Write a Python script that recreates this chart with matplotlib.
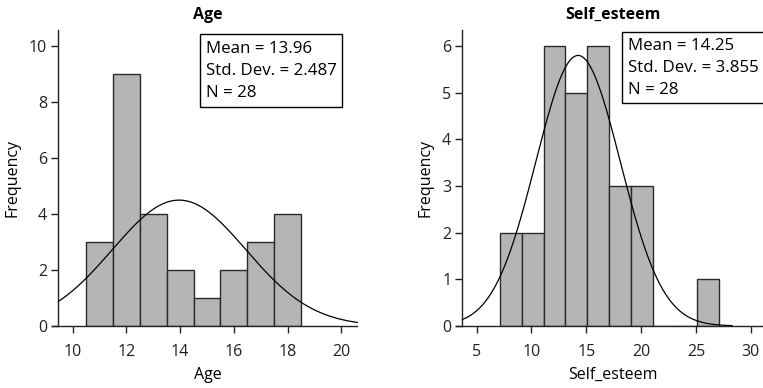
import numpy as np
import matplotlib
matplotlib.use("Agg")
from matplotlib import pyplot as plt
from matplotlib.patches import Rectangle

plt.rcParams['font.family'] = ['Open Sans', 'DejaVu Sans']

# Age histogram (bin edges and counts)
age_edges = [10.5, 11.5, 12.5, 13.5, 14.5, 15.5, 16.5, 17.5, 18.5]
age_counts = [3, 9, 4, 2, 1, 2, 3, 4]
age_mean, age_sd, age_n = 13.96, 2.487, 28

# Self_esteem histogram
se_edges = [7.1, 9.1, 11.1, 13.1, 15.1, 17.1, 19.1, 21.1, 23.1, 25.1, 27.1]
se_counts = [2, 2, 6, 5, 6, 3, 3, 0, 0, 1]
se_mean, se_sd, se_n = 14.25, 3.855, 28

bar_color = '#b4b5b7'
edge_color = '#2b2b2b'

fig = plt.figure(figsize=(7.63, 3.88), dpi=100)
ax1 = fig.add_axes([58.3/763, 62/388, 299/763, 296/388])
ax2 = fig.add_axes([462.3/763, 62/388, 300.7/763, 296/388])


def draw_hist(ax, edges, counts, mean, sd, n, xlim, ylim, xticks, yticks, curve_end, title, box, text_x, text_ys):
    edges = np.array(edges)
    widths = np.diff(edges)
    ax.bar(edges[:-1], counts, width=widths, align='edge', color=bar_color,
           edgecolor=edge_color, linewidth=1.0)
    bw = widths[0]
    xs = np.linspace(xlim[0], curve_end, 400)
    ys = n * bw * np.exp(-0.5 * ((xs - mean) / sd) ** 2) / (sd * np.sqrt(2 * np.pi))
    ax.plot(xs, ys, color='black', linewidth=0.9, clip_on=False)
    ax.set_xlim(xlim)
    ax.set_ylim(ylim)
    ax.set_xticks(xticks)
    ax.set_yticks(yticks)
    for s in ['top', 'right']:
        ax.spines[s].set_visible(False)
    for s in ['left', 'bottom']:
        ax.spines[s].set_linewidth(1.0)
        ax.spines[s].set_color('#222222')
    # x axis line runs a tick-length past the y axis, as in the original
    ext = (xlim[1] - xlim[0]) * 6 / 299
    ax.spines['bottom'].set_bounds(xlim[0] - ext, xlim[1])
    ax.tick_params(direction='out', length=5, width=1.0, labelsize=11.5, colors='#222222')
    ax.tick_params(axis='x', pad=8)
    ax.tick_params(axis='y', pad=3)
    ax.set_title(title, fontsize=11.5, fontweight='bold', pad=8)
    ax.set_xlabel(title, fontsize=11.5, labelpad=5)
    ax.set_ylabel('Frequency', fontsize=11.5, labelpad=6)

    # statistics box
    x0, y0, x1, y1 = box
    ax.add_patch(Rectangle((x0, y0), x1 - x0, y1 - y0, transform=ax.transAxes,
                           fc='white', ec='black', lw=1.0, clip_on=False, zorder=5))
    lines = ['Mean = %.2f' % mean, 'Std. Dev. = %.3f' % sd, 'N = %d' % n]
    for line, ty in zip(lines, text_ys):
        ax.text(text_x, ty, line, transform=ax.transAxes, ha='left', va='center',
                fontsize=12.2, clip_on=False, zorder=6)


draw_hist(ax1, age_edges, age_counts, age_mean, age_sd, age_n,
          (9.46, 20.6), (0, 10.56), [10, 12, 14, 16, 18, 20], [0, 2, 4, 6, 8, 10],
          20.6, 'Age', (0.474, 0.741, 0.950, 0.9855), 0.493, [0.937, 0.861, 0.787])
draw_hist(ax2, se_edges, se_counts, se_mean, se_sd, se_n,
          (3.7, 31.1), (0, 6.34), [5, 10, 15, 20, 25, 30], [0, 1, 2, 3, 4, 5, 6],
          28.3, 'Self_esteem', (0.532, 0.752, 1.1, 0.992), 0.551, [0.947, 0.870, 0.797])

fig.savefig('out.png', dpi=100)
